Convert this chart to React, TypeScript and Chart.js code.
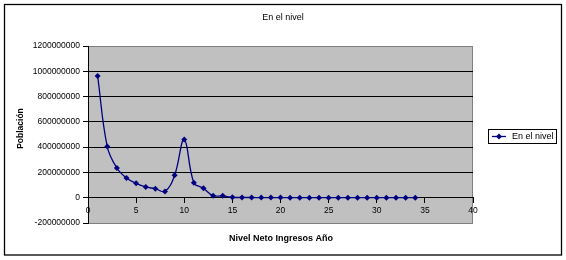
import { useEffect, useRef } from "react";
import { Chart, registerables } from "chart.js";

Chart.register(...registerables);

const chartTitle = "En el nivel";
const seriesName = "En el nivel";
const xAxisTitle = "Nivel Neto Ingresos Año";
const yAxisTitle = "Población";

const niveles = [
  1, 2, 3, 4, 5, 6, 7, 8, 9, 10, 11, 12, 13, 14, 15, 16, 17, 18, 19, 20, 21, 22,
  23, 24, 25, 26, 27, 28, 29, 30, 31, 32, 33, 34,
];
const poblacion = [
  963000000, 405000000, 235000000, 156000000, 114000000, 85000000, 71000000,
  50000000, 177000000, 460000000, 119000000, 74000000, 16000000, 15000000,
  3000000, 2000000, 1500000, 1200000, 1000000, 800000, 700000, 600000, 500000,
  400000, 350000, 300000, 250000, 200000, 150000, 120000, 100000, 80000, 60000,
  50000,
];

const xMin = 0;
const xMax = 40;
const xStep = 5;
const yMin = -200000000;
const yMax = 1200000000;
const yStep = 200000000;

const FONT = "'Liberation Sans', Arial, sans-serif";
const NAVY = "#000080";

const decorPlugin = {
  id: "decor",
  beforeDraw(chart: any) {
    const { ctx, chartArea } = chart;
    ctx.save();
    ctx.fillStyle = "#ffffff";
    ctx.fillRect(0, 0, chart.width, chart.height);
    ctx.fillStyle = "#C0C0C0";
    ctx.fillRect(
      chartArea.left,
      chartArea.top,
      chartArea.right - chartArea.left,
      chartArea.bottom - chartArea.top
    );
    ctx.strokeStyle = "#808080";
    ctx.lineWidth = 1;
    ctx.strokeRect(
      chartArea.left + 0.5,
      chartArea.top + 0.5,
      chartArea.right - chartArea.left - 1,
      chartArea.bottom - chartArea.top
    );
    ctx.restore();
  },
  afterDraw(chart: any) {
    const { ctx } = chart;
    ctx.save();
    // outer frame
    ctx.strokeStyle = "#000000";
    ctx.lineWidth = 1.3;
    ctx.strokeRect(4.5, 4.5, 557, 250.5);

    ctx.fillStyle = "#000000";
    // chart title
    ctx.font = `9px ${FONT}`;
    ctx.textAlign = "center";
    ctx.textBaseline = "middle";
    ctx.fillText(chartTitle, 283, 17.5);

    // x axis title
    ctx.font = `bold 9px ${FONT}`;
    ctx.fillText(xAxisTitle, 281, 238.5);

    // y axis title
    ctx.save();
    ctx.translate(21, 128.5);
    ctx.rotate(-Math.PI / 2);
    ctx.font = `bold 8.5px ${FONT}`;
    ctx.fillText(yAxisTitle, 0, 0);
    ctx.restore();

    // legend
    const lx = 488.5;
    const ly = 129.5;
    ctx.fillStyle = "#ffffff";
    ctx.fillRect(lx, ly, 68, 14);
    ctx.strokeStyle = "#000000";
    ctx.lineWidth = 1;
    ctx.strokeRect(lx, ly, 68, 14);
    ctx.strokeStyle = NAVY;
    ctx.lineWidth = 1.3;
    ctx.beginPath();
    ctx.moveTo(492, 136.5);
    ctx.lineTo(506, 136.5);
    ctx.stroke();
    ctx.fillStyle = NAVY;
    ctx.beginPath();
    ctx.moveTo(499, 133.5);
    ctx.lineTo(502, 136.5);
    ctx.lineTo(499, 139.5);
    ctx.lineTo(496, 136.5);
    ctx.closePath();
    ctx.fill();
    ctx.fillStyle = "#000000";
    ctx.font = `9px ${FONT}`;
    ctx.textAlign = "left";
    ctx.textBaseline = "middle";
    ctx.fillText(seriesName, 512, 137);
    ctx.restore();
  },
};

export default function App() {
  const canvasRef = useRef<HTMLCanvasElement | null>(null);

  useEffect(() => {
    document.body.style.margin = "0";
    const canvas = canvasRef.current;
    if (!canvas) return;
    const chart = new Chart(canvas, {
      type: "line",
      data: {
        datasets: [
          {
            label: seriesName,
            data: niveles.map((x, i) => ({ x, y: poblacion[i] })),
            borderColor: NAVY,
            backgroundColor: NAVY,
            borderWidth: 1.3,
            tension: 0.4,
            pointStyle: "rectRot",
            pointRadius: 3,
            pointBorderWidth: 0,
            pointBackgroundColor: NAVY,
            fill: false,
          },
        ],
      },
      options: {
        responsive: false,
        animation: false,
        events: [],
        layout: { padding: { top: 46, right: 93, bottom: 37, left: 0 } },
        plugins: {
          legend: { display: false },
          title: { display: false },
          tooltip: { enabled: false },
        },
        scales: {
          x: {
            type: "linear",
            position: { y: 0 } as any,
            min: xMin,
            max: xMax,
            afterFit: (scale: any) => {
              scale.height = 0;
            },
            ticks: {
              stepSize: xStep,
              color: "#000000",
              font: { family: FONT, size: 8.5 },
              padding: 3,
              maxRotation: 0,
              autoSkip: false,
            },
            grid: {
              drawOnChartArea: false,
              drawTicks: true,
              tickLength: 5,
              tickColor: "#000000",
            },
            border: { display: true, color: "#000000", width: 1 },
          },
          y: {
            type: "linear",
            position: "left",
            min: yMin,
            max: yMax,
            afterFit: (scale: any) => {
              scale.width = 88;
            },
            ticks: {
              stepSize: yStep,
              color: "#000000",
              font: { family: FONT, size: 8.5 },
              padding: 3,
              autoSkip: false,
              callback: (v: any) => String(v),
            },
            grid: {
              color: (c: any) =>
                c.tick && (c.tick.value === yMax || c.tick.value === yMin)
                  ? "rgba(0,0,0,0)"
                  : "#000000",
              lineWidth: 1,
              drawTicks: true,
              tickLength: 5,
              tickColor: "#000000",
            },
            border: { display: true, color: "#000000", width: 1 },
          },
        },
      },
      plugins: [decorPlugin],
    });
    return () => chart.destroy();
  }, []);

  return (
    <div style={{ width: 566, height: 260 }}>
      <canvas ref={canvasRef} width={566} height={260} />
    </div>
  );
}
